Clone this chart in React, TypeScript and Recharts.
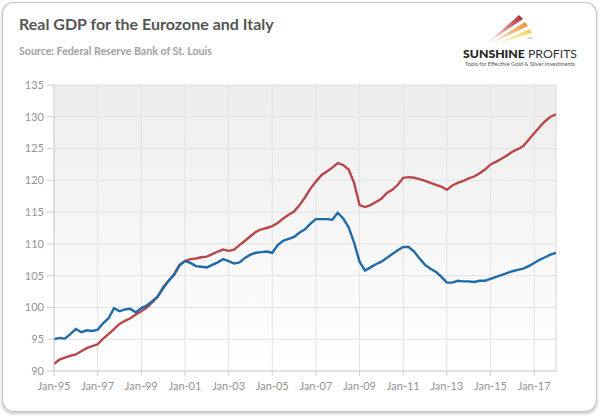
import React from "react";
import {
  LineChart,
  Line,
  XAxis,
  YAxis,
  CartesianGrid,
  ReferenceLine,
} from "recharts";

const years = [
  "95", "96", "97", "98", "99", "00", "01", "02", "03", "04", "05", "06",
  "07", "08", "09", "10", "11", "12", "13", "14", "15", "16", "17",
];
const months = ["Jan", "Apr", "Jul", "Oct"];

const quarters: string[] = [];
years.forEach((y) => months.forEach((m) => quarters.push(`${m}-${y}`)));
quarters.push("Jan-18");

const eurozone = [
  91.1, 91.8, 92.1, 92.4, 92.6, 93.1, 93.6, 93.9, 94.2, 95.1, 95.8, 96.6,
  97.4, 97.9, 98.3, 98.9, 99.4, 100.0, 100.8, 101.7, 103.2, 104.2, 105.2, 106.7,
  107.3, 107.6, 107.7, 107.9, 108.0, 108.4, 108.8, 109.1, 108.9, 109.1, 109.8, 110.5,
  111.2, 111.9, 112.3, 112.5, 112.8, 113.3, 114.0, 114.6, 115.1, 116.1, 117.3, 118.7,
  119.8, 120.8, 121.4, 122.0, 122.7, 122.4, 121.7, 119.6, 116.1, 115.8, 116.1, 116.6,
  117.1, 118.0, 118.5, 119.3, 120.4, 120.5, 120.4, 120.2, 119.9, 119.6, 119.3, 119.0,
  118.5, 119.2, 119.6, 119.9, 120.3, 120.6, 121.1, 121.7, 122.5, 122.9, 123.4, 123.9,
  124.5, 124.9, 125.4, 126.4, 127.4, 128.4, 129.3, 130.0, 130.4,
];

const italy = [
  95.0, 95.2, 95.1, 95.8, 96.6, 96.1, 96.4, 96.3, 96.5, 97.5, 98.3, 99.9,
  99.4, 99.7, 99.8, 99.2, 99.9, 100.3, 101.0, 101.7, 103.0, 104.2, 105.1, 106.6,
  107.3, 107.0, 106.5, 106.4, 106.3, 106.7, 107.1, 107.6, 107.3, 106.9, 107.1, 107.8,
  108.3, 108.6, 108.7, 108.8, 108.6, 109.8, 110.5, 110.8, 111.1, 111.8, 112.3, 113.2,
  113.9, 113.9, 113.9, 113.8, 114.9, 114.0, 112.6, 110.2, 107.2, 105.8, 106.3, 106.8,
  107.2, 107.8, 108.4, 109.0, 109.5, 109.5, 108.8, 107.7, 106.7, 106.1, 105.6, 104.8,
  103.9, 103.9, 104.2, 104.1, 104.1, 104.0, 104.2, 104.2, 104.5, 104.8, 105.1, 105.4,
  105.7, 105.9, 106.1, 106.5, 107.0, 107.5, 107.9, 108.3, 108.6,
];

const xTicks = [
  "Jan-95", "Jan-97", "Jan-99", "Jan-01", "Jan-03", "Jan-05", "Jan-07",
  "Jan-09", "Jan-11", "Jan-13", "Jan-15", "Jan-17",
];
const yTicks = [90, 95, 100, 105, 110, 115, 120, 125, 130, 135];

const data = quarters.map((q, i) => ({
  date: q,
  eurozone: eurozone[i],
  italy: italy[i],
}));

const FONT = "Lato, 'Open Sans', sans-serif";

function Background() {
  return (
    <svg
      width={600}
      height={419}
      style={{ position: "absolute", left: 0, top: 0 }}
    >
      <defs>
        <linearGradient id="plotBg" x1="0" y1="0" x2="0" y2="1">
          <stop offset="0%" stopColor="#ededed" />
          <stop offset="100%" stopColor="#ffffff" />
        </linearGradient>
        <filter id="frameShadow" x="-5%" y="-5%" width="110%" height="110%">
          <feDropShadow dx="0" dy="1.5" stdDeviation="1.5" floodColor="#000" floodOpacity="0.25" />
        </filter>
        <linearGradient id="streakRed" x1="0" y1="1" x2="1" y2="0">
          <stop offset="0%" stopColor="#c0392b" stopOpacity="0" />
          <stop offset="100%" stopColor="#a8242a" stopOpacity="1" />
        </linearGradient>
        <linearGradient id="streakOrange" x1="0" y1="1" x2="1" y2="0">
          <stop offset="0%" stopColor="#e67e22" stopOpacity="0" />
          <stop offset="100%" stopColor="#e8902a" stopOpacity="1" />
        </linearGradient>
        <linearGradient id="streakYellow" x1="0" y1="1" x2="1" y2="0">
          <stop offset="0%" stopColor="#f5d76e" stopOpacity="0" />
          <stop offset="100%" stopColor="#f3c94a" stopOpacity="1" />
        </linearGradient>
      </defs>
      <rect
        x={2.5}
        y={2.5}
        width={594}
        height={409}
        rx={11}
        fill="#ffffff"
        stroke="#c8c8c8"
        strokeWidth={1.2}
        filter="url(#frameShadow)"
      />
    </svg>
  );
}

function Overlay() {
  return (
    <svg
      width={600}
      height={419}
      style={{ position: "absolute", left: 0, top: 0, pointerEvents: "none" }}
    >
      <text x={19} y={30} fontFamily={FONT} fontWeight="bold" fontSize={16} fill="#555555">
        Real GDP for the Eurozone and Italy
      </text>
      <text x={19} y={55} fontFamily={FONT} fontWeight="bold" fontSize={10.6} fill="#a0a0a0">
        Source: Federal Reserve Bank of St. Louis
      </text>
      {/* logo streaks */}
      <polygon points="486,44 519,15 523,19" fill="url(#streakRed)" />
      <polygon points="488,45 525,22 528,26" fill="url(#streakOrange)" />
      <polygon points="490,46 530,29 532,33" fill="url(#streakYellow)" />
      <ellipse cx={530} cy={38} rx={3} ry={1.2} fill="#bbbbbb" opacity={0.6} />
      <text x={463} y={58} fontFamily={FONT} fontSize={12} fill="#222222" textLength={114} lengthAdjust="spacingAndGlyphs">
        <tspan fontWeight="900">SUNSHINE</tspan>
        <tspan fontWeight="normal" fill="#333333"> PROFITS</tspan>
      </text>
      <text x={465} y={66} fontFamily={FONT} fontSize={5.2} fill="#555555" textLength={110} lengthAdjust="spacingAndGlyphs">
        Tools for Effective Gold &amp; Silver Investments
      </text>
    </svg>
  );
}

export default function App() {
  return (
    <div
      style={{
        position: "absolute",
        left: 0,
        top: 0,
        width: 600,
        height: 419,
        background: "#ffffff",
      }}
    >
      <Background />
      <div style={{ position: "absolute", left: 0, top: 0 }}>
        <LineChart
          width={600}
          height={419}
          data={data}
          margin={{ top: 85, right: 44, left: 0, bottom: 18 }}
        >
          <CartesianGrid
            stroke="#e2e2e2"
            strokeWidth={1}
            fill="url(#plotBg)"
            fillOpacity={1}
          />
          <XAxis
            dataKey="date"
            ticks={xTicks}
            interval={0}
            padding={{ left: 0, right: 0 }}
            height={30}
            axisLine={{ stroke: "#d0d0d0" }}
            tickLine={{ stroke: "#d0d0d0" }}
            tickSize={5}
            tick={{ fill: "#939393", fontSize: 11, fontFamily: FONT }}
            tickMargin={6}
          />
          <YAxis
            domain={[90, 135]}
            ticks={yTicks}
            interval={0}
            width={54}
            axisLine={{ stroke: "#d0d0d0" }}
            tickLine={{ stroke: "#d0d0d0" }}
            tickSize={7}
            tick={{ fill: "#939393", fontSize: 11, fontFamily: FONT }}
            tickMargin={3}
          />
          <ReferenceLine x="Jan-18" stroke="#e2e2e2" strokeWidth={1} />
          <Line
            type="linear"
            dataKey="eurozone"
            stroke="#b8474a"
            strokeWidth={2.4}
            dot={false}
            isAnimationActive={false}
          />
          <Line
            type="linear"
            dataKey="italy"
            stroke="#1f6aa8"
            strokeWidth={2.4}
            dot={false}
            isAnimationActive={false}
          />
        </LineChart>
      </div>
      <Overlay />
    </div>
  );
}
